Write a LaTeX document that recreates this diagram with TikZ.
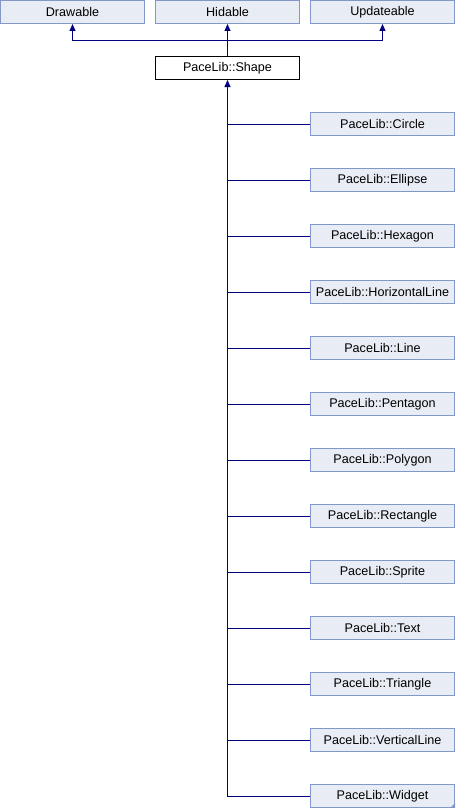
\documentclass[tikz,border=0pt]{standalone}
\usepackage{fontspec}
\setmainfont{Liberation Sans}
\usetikzlibrary{arrows.meta}
\definecolor{boxfill}{HTML}{E8ECF5}
\definecolor{boxline}{HTML}{8497CA}
\definecolor{conncol}{HTML}{000080}
\tikzset{
  cls/.style={draw=boxline, fill=boxfill, line width=1pt, minimum width=144pt, minimum height=23pt, inner sep=0pt, font=\fontsize{12.6}{14}\selectfont},
  main/.style={cls, draw=black, fill=white},
  conn/.style={draw=conncol, line width=1pt},
  tip/.style={-{Triangle[length=7pt,width=6pt]}}
}
\begin{document}
\begin{tikzpicture}[x=1pt,y=-1pt]
\useasboundingbox (0,0) rectangle (455,808);
\node[cls] (drawable) at (72.5,12) {Drawable};
\node[cls] (hidable) at (227.5,12) {Hidable};
\node[cls] (updateable) at (382.5,12) {Updateable};
\node[main] (shape) at (227.5,68) {PaceLib::Shape};
\coordinate (bar) at (227.5,40.5);
\draw[conn,tip] (shape.north) -- (hidable.south);
\draw[conn,tip] (bar) -| (drawable.south);
\draw[conn,tip] (bar) -| (updateable.south);
\foreach \n/\t [count=\i from 0] in {circle/Circle,ellipse/Ellipse,hexagon/Hexagon,hline/HorizontalLine,line/Line,pentagon/Pentagon,polygon/Polygon,rectangle/Rectangle,sprite/Sprite,text/Text,triangle/Triangle,vline/VerticalLine,widget/Widget}{
  \node[cls] (\n) at (382.5,{124+56*\i}) {PaceLib::\t};
}
\draw[conn,tip] (widget.west) -| (shape.south);
\foreach \n in {circle,ellipse,hexagon,hline,line,pentagon,polygon,rectangle,sprite,text,triangle,vline}{
  \draw[conn] (\n.west) -- (\n.west -| shape.south);
}
\fill[boxline] (widget.south east) -- ++(0,-5) -- ++(-5,5) -- cycle;
\end{tikzpicture}
\end{document}
